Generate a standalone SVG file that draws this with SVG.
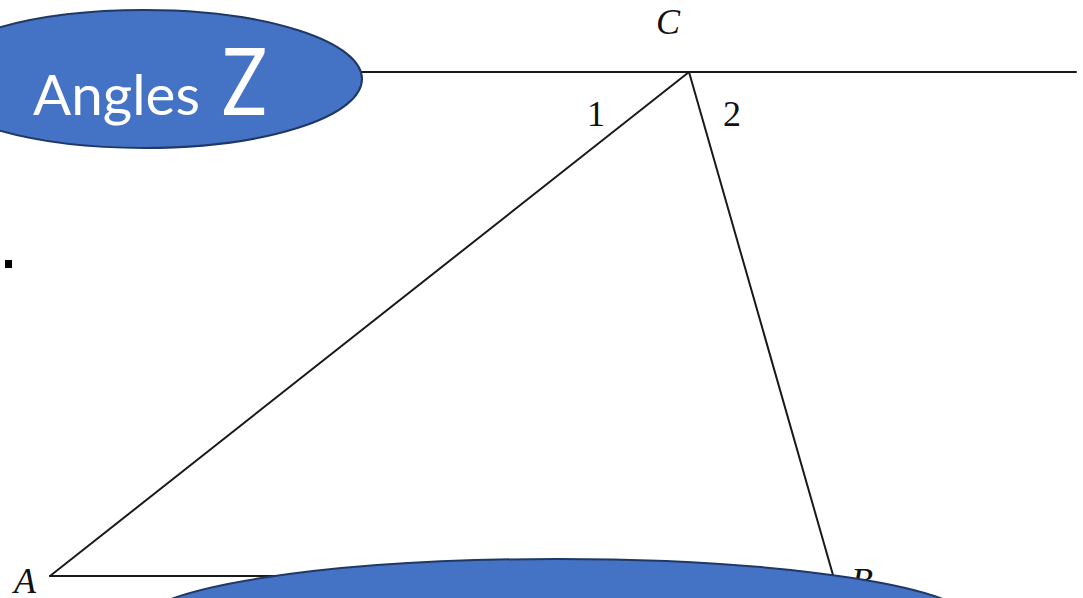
<svg xmlns="http://www.w3.org/2000/svg" width="1083" height="598" viewBox="0 0 1083 598">
  <style>
    .bubble { fill: #4472C4; stroke: #1F3864; stroke-width: 2; }
    .ln { stroke: #1a1a1a; stroke-width: 2; fill: none; stroke-linecap: round; }
    .lbl { font-family: "Liberation Serif", "DejaVu Serif", serif; font-style: italic; font-size: 36px; fill: #111; }
    .num { font-family: "Liberation Serif", "DejaVu Serif", serif; font-size: 36px; fill: #111; text-anchor: middle; }
    .title { font-family: Lato, "Open Sans", sans-serif; fill: #ffffff; }
  </style>
  <rect width="1083" height="598" fill="#ffffff"/>
  <g id="connectors">
    <line class="ln" x1="300" y1="72" x2="1076" y2="72" stroke-width="2.6"/>
    <line class="ln" x1="50" y1="576" x2="689" y2="72"/>
    <line class="ln" x1="689" y1="72" x2="833" y2="575"/>
    <line class="ln" x1="50" y1="576" x2="833" y2="576"/>
  </g>
  <g id="labels">
    <text class="lbl" x="656" y="34">C</text>
    <text class="num" x="596" y="126">1</text>
    <text class="num" x="732" y="126">2</text>
    <text class="lbl" x="14" y="593">A</text>
    <text class="lbl" x="851" y="593">B</text>
  </g>
  <g id="bullet">
    <rect x="5" y="260" width="7" height="8" fill="#000000"/>
  </g>
  <g id="title-node">
    <ellipse class="bubble" cx="144" cy="79" rx="218" ry="69"/>
    <text class="title" x="33" y="115" font-size="56" textLength="167" lengthAdjust="spacingAndGlyphs">Angles</text>
    <text class="title" x="222" y="115" font-size="93" textLength="45" lengthAdjust="spacingAndGlyphs">Z</text>
  </g>
  <g id="bottom-node">
    <ellipse class="bubble" cx="557" cy="624" rx="418" ry="65"/>
  </g>
</svg>
